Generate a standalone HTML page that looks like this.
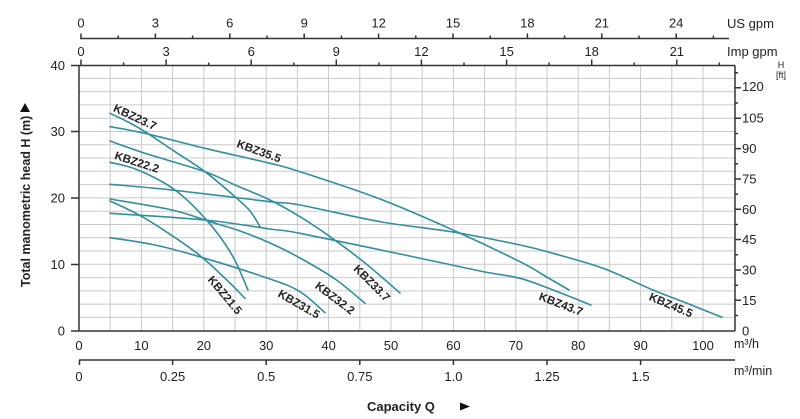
<!DOCTYPE html>
<html><head><meta charset="utf-8"><style>
html,body{margin:0;padding:0;background:#fff;}
svg{display:block;}
text{font-family:"Liberation Sans",Arial,sans-serif;fill:#222;}
</style></head><body>
<svg id="chart" width="800" height="419" viewBox="0 0 800 419" xmlns="http://www.w3.org/2000/svg">
<!-- grid -->
<g stroke="#c9c9c9" stroke-width="1">
<path d="M110.2,66V331M141.4,66V331M172.6,66V331M203.8,66V331M235,66V331M266.2,66V331M297.4,66V331M328.6,66V331M359.8,66V331M391,66V331M422.2,66V331M453.4,66V331M484.6,66V331M515.8,66V331M547,66V331M578.2,66V331M609.4,66V331M640.6,66V331M671.8,66V331M703,66V331"/>
<path d="M79,317.4H735M79,304.1H735M79,290.9H735M79,277.6H735M79,264.3H735M79,251H735M79,237.7H735M79,224.5H735M79,211.2H735M79,197.9H735M79,184.6H735M79,171.3H735M79,158H735M79,144.8H735M79,131.5H735M79,118.2H735M79,104.9H735M79,91.6H735M79,78.4H735"/>
</g>
<!-- curves -->
<g id="curves" fill="none" stroke="#2f8f9e" stroke-width="1.6" stroke-linejoin="round" stroke-linecap="round">
<polyline class="c" points="110,113.3 128,122 145,131.7 175,151.7 205,171.7 235,196.7 250,211 260,226.7"/>
<polyline class="c" points="110,126.7 145,133.3 205,148.3 270,163.3 300,171.7 380,199 453,230 520,261.7 545,276 569,290"/>
<polyline class="c" points="110,141 145,153.3 205,171.7 235,185 270,200 300,216.7 330,236.7 365,263 400,293"/>
<polyline class="c" points="110,162.3 138,170 175,190 208,221.7 232,255 248,290"/>
<polyline class="c" points="110,184.3 172,190 270,201.7 300,205 380,221.7 453,232 520,245 553,253.3 603,268.3 653,290 687,303.3 722,317.3"/>
<polyline class="c" points="110,199 172,210 212,222.3 240,231 270,243 300,258 335,279 365,303.3"/>
<polyline class="c" points="110,201 145,218.3 195,251.7 225,278.3 245,298.3"/>
<polyline class="c" points="110,213.3 205,220 270,229 300,233.3 400,254 480,271 520,278.3 553,290 591,305"/>
<polyline class="c" points="110,237.7 155,245 205,258.3 270,279 300,291.7 325,312.7"/>
</g>
<!-- curve labels -->
<g font-weight="bold" font-size="11.5" text-anchor="middle">
<text transform="translate(135,117) rotate(25)" dy="4">KBZ23.7</text>
<text transform="translate(137,162) rotate(18)" dy="4">KBZ22.2</text>
<text transform="translate(259,151) rotate(20)" dy="4">KBZ35.5</text>
<text transform="translate(225,295) rotate(50)" dy="4">KBZ21.5</text>
<text transform="translate(299,304) rotate(30)" dy="4">KBZ31.5</text>
<text transform="translate(335,298) rotate(37)" dy="4">KBZ32.2</text>
<text transform="translate(372,283) rotate(45)" dy="4">KBZ33.7</text>
<text transform="translate(561,304) rotate(21)" dy="4">KBZ43.7</text>
<text transform="translate(671,305) rotate(23)" dy="4">KBZ45.5</text>
</g>
<!-- axes lines -->
<g stroke="#333" stroke-width="1.5" fill="none">
<path d="M79,65.5V331M79,331H735M735,65.5V331M79,65.5H735"/>
<path d="M80,38.5H729"/>
<path d="M79,360H735"/>
<path d="M71,331H79M71,264.5H79M71,198H79M71,131.5H79M71,65.5H79"/>
<path d="M735,300.3h6M735,270h6M735,239.5h6M735,209.3h6M735,179h6M735,148.6h6M735,118.3h6M735,87.8h6"/>
<path d="M735,315.5h3M735,285.2h3M735,254.8h3M735,224.5h3M735,194.2h3M735,163.8h3M735,133.5h3M735,103h3M735,72.7h3"/>
<path d="M81,38.5v-5M155.4,38.5v-5M229.8,38.5v-5M304.2,38.5v-5M378.6,38.5v-5M453,38.5v-5M527.4,38.5v-5M601.8,38.5v-5M676.2,38.5v-5"/>
<path d="M118.2,38.5v-3M192.6,38.5v-3M267,38.5v-3M341.4,38.5v-3M415.8,38.5v-3M490.2,38.5v-3M564.6,38.5v-3M639,38.5v-3M713.4,38.5v-3"/>
<path d="M81,65.5v-6M166.1,65.5v-6M251.2,65.5v-6M336.3,65.5v-6M421.4,65.5v-6M506.6,65.5v-6M591.7,65.5v-6M676.8,65.5v-6"/>
<path d="M123.6,65.5v-3M208.7,65.5v-3M293.8,65.5v-3M378.9,65.5v-3M464,65.5v-3M549.1,65.5v-3M634.2,65.5v-3M719.3,65.5v-3"/>
<path d="M79.5,360v5M172.6,360v5M266.2,360v5M359.8,360v5M453.4,360v5M547,360v5M640.6,360v5"/>
</g>
<!-- left labels -->
<g font-size="13" text-anchor="end">
<text x="65" y="335.5">0</text>
<text x="65" y="269">10</text>
<text x="65" y="202.5">20</text>
<text x="65" y="136">30</text>
<text x="65" y="70">40</text>
</g>
<!-- right labels -->
<g font-size="13">
<text x="742" y="335.5">0</text>
<text x="742" y="305">15</text>
<text x="742" y="274.5">30</text>
<text x="742" y="244">45</text>
<text x="742" y="213.8">60</text>
<text x="742" y="183.5">75</text>
<text x="742" y="153">90</text>
<text x="742" y="122.5">105</text>
<text x="742" y="91">120</text>
</g>
<g font-size="9" text-anchor="middle">
<text x="781" y="68">H</text>
<text x="781" y="78">[ft]</text>
</g>
<!-- bottom m3/h labels -->
<g font-size="13" text-anchor="middle">
<text x="79" y="350">0</text>
<text x="141.4" y="350">10</text>
<text x="203.8" y="350">20</text>
<text x="266.2" y="350">30</text>
<text x="328.6" y="350">40</text>
<text x="391" y="350">50</text>
<text x="453.4" y="350">60</text>
<text x="515.8" y="350">70</text>
<text x="578.2" y="350">80</text>
<text x="640.6" y="350">90</text>
<text x="703" y="350">100</text>
</g>
<g font-size="13" text-anchor="middle">
<text x="79" y="381">0</text>
<text x="172.6" y="381">0.25</text>
<text x="266.2" y="381">0.5</text>
<text x="359.8" y="381">0.75</text>
<text x="453.4" y="381">1.0</text>
<text x="547" y="381">1.25</text>
<text x="640.6" y="381">1.5</text>
</g>
<text x="734" y="348" font-size="12.5">m³/h</text>
<text x="734" y="375" font-size="12.5">m³/min</text>
<!-- top labels -->
<g font-size="13" text-anchor="middle">
<text x="81" y="27.5">0</text>
<text x="155.4" y="27.5">3</text>
<text x="229.8" y="27.5">6</text>
<text x="304.2" y="27.5">9</text>
<text x="378.6" y="27.5">12</text>
<text x="453" y="27.5">15</text>
<text x="527.4" y="27.5">18</text>
<text x="601.8" y="27.5">21</text>
<text x="676.2" y="27.5">24</text>
</g>
<g font-size="13" text-anchor="middle">
<text x="81" y="56">0</text>
<text x="166.1" y="56">3</text>
<text x="251.2" y="56">6</text>
<text x="336.3" y="56">9</text>
<text x="421.4" y="56">12</text>
<text x="506.6" y="56">15</text>
<text x="591.7" y="56">18</text>
<text x="676.8" y="56">21</text>
</g>
<text x="727" y="28" font-size="13">US gpm</text>
<text x="727" y="56" font-size="13">Imp gpm</text>
<!-- axis titles -->
<text x="367" y="411" font-size="13" font-weight="bold">Capacity Q</text>
<path d="M460,402.5L470,406.5L460,410.5Z" fill="#111"/>
<text transform="translate(30,287) rotate(-90)" font-size="12.5" font-weight="bold">Total manometric head H (m)</text>
<path d="M20,112L25,103L30,112Z" fill="#111"/>
</svg>
<script>
(function(){
  var ns="http://www.w3.org/2000/svg";
  var g=document.getElementById("curves");
  var pls=g.querySelectorAll("polyline.c");
  for(var k=0;k<pls.length;k++){
    var pl=pls[k];
    var raw=pl.getAttribute("points").trim().split(/\s+/);
    var p=raw.map(function(s){var a=s.split(",");return [parseFloat(a[0]),parseFloat(a[1])];});
    var d="M"+p[0][0]+","+p[0][1];
    for(var i=0;i<p.length-1;i++){
      var p0=p[i-1]||p[i],p1=p[i],p2=p[i+1],p3=p[i+2]||p[i+1];
      var c1x=p1[0]+(p2[0]-p0[0])/6,c1y=p1[1]+(p2[1]-p0[1])/6;
      var c2x=p2[0]-(p3[0]-p1[0])/6,c2y=p2[1]-(p3[1]-p1[1])/6;
      d+=" C"+c1x.toFixed(2)+","+c1y.toFixed(2)+" "+c2x.toFixed(2)+","+c2y.toFixed(2)+" "+p2[0]+","+p2[1];
    }
    var path=document.createElementNS(ns,"path");
    path.setAttribute("d",d);
    g.replaceChild(path,pl);
  }
})();
</script>
</body></html>
